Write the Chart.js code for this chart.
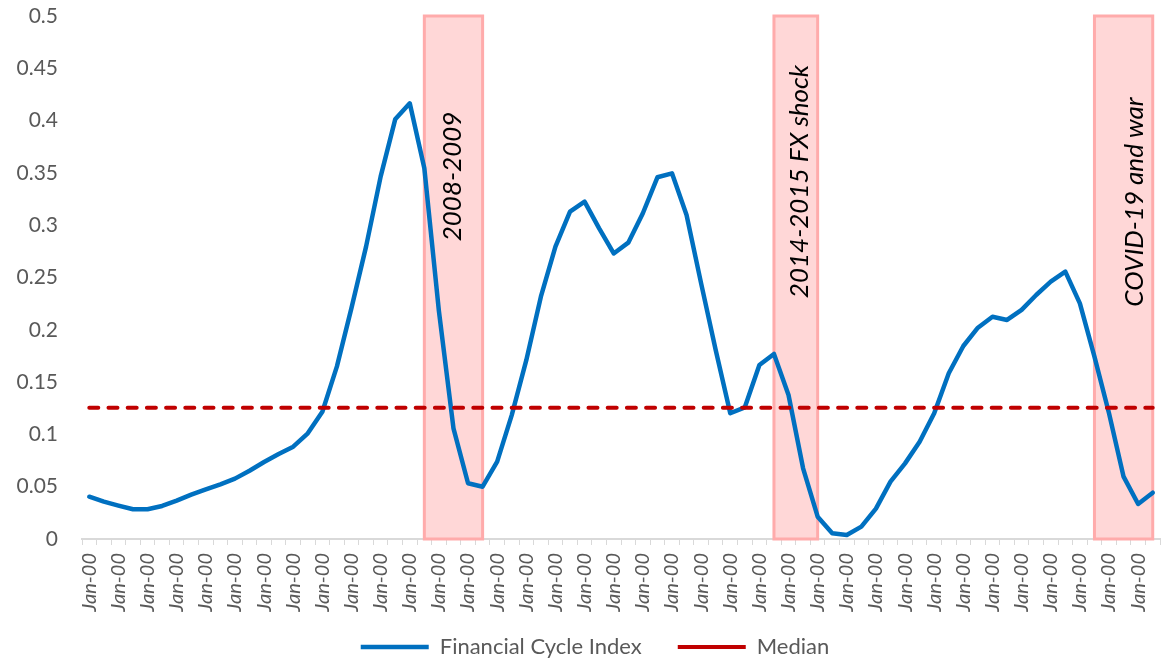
<!DOCTYPE html>
<html><head><meta charset="utf-8">
<script src="https://cdn.jsdelivr.net/npm/chart.js@4/dist/chart.umd.min.js"></script>
<style>html,body{margin:0;padding:0;background:#fff}</style>
</head><body>
<canvas id="c" width="1167" height="659"></canvas>
<script>
// ---- data ----
const categories = Array.from({length: 74}, () => 'Jan-00');
const fciValues = [
  0.0404, 0.0357, 0.0319, 0.0284, 0.0284, 0.0316, 0.0367, 0.0424, 0.0475, 0.0523,
  0.0577, 0.0653, 0.0736, 0.0813, 0.0883, 0.1010, 0.1217, 0.1650, 0.2210, 0.2795,
  0.3464, 0.4012, 0.4165, 0.3544, 0.2180, 0.1058, 0.0533, 0.0500, 0.0739, 0.1185,
  0.1710, 0.2317, 0.2795, 0.3130, 0.3225, 0.2970, 0.2730, 0.2833, 0.3114, 0.3458,
  0.3496, 0.3098, 0.2444, 0.1807, 0.1202, 0.1259, 0.1663, 0.1769, 0.1377, 0.0676,
  0.0213, 0.0054, 0.0038, 0.0118, 0.0290, 0.0548, 0.0723, 0.0930, 0.1202, 0.1584,
  0.1845, 0.2020, 0.2125, 0.2094, 0.2190, 0.2333, 0.2460, 0.2556, 0.2253, 0.1743,
  0.1202, 0.0596, 0.0335, 0.0443
];
const medianValue = 0.1255;
const medianValues = categories.map(() => medianValue);
const yMin = 0, yMax = 0.5, yStep = 0.05;
const shadeStart = [23, 47, 69];
const shadeEnd = [27, 50, 73];
const shadeLabels = ['2008-2009', '2014-2015 FX shock', 'COVID-19 and war'];

// ---- layout / style (not data) ----
const shadeTextPos = [[24.97, 0.3466], [48.77, 0.3418], [71.76, 0.3222]];

const shadePlugin = {
  id: 'shade',
  afterLayout(chart) {
    // let tick labels run outside their axis boxes without being clipped
    chart.scales.x.bottom = chart.height;
    chart.scales.y.left = 0;
  },
  beforeDatasetsDraw(chart) {
    const {ctx, scales: {x, y}} = chart;
    ctx.save();
    const top = y.getPixelForValue(yMax), bot = y.getPixelForValue(yMin);
    for (let i = 0; i < shadeStart.length; i++) {
      const x0 = x.getPixelForValue(shadeStart[i]);
      const x1 = x.getPixelForValue(shadeEnd[i]);
      ctx.fillStyle = '#FFD7D7';
      ctx.fillRect(x0, top, x1 - x0, bot - top);
      ctx.strokeStyle = '#FFABAB';
      ctx.lineWidth = 3;
      ctx.strokeRect(x0, top, x1 - x0, bot - top);
    }
    ctx.fillStyle = '#000';
    ctx.font = 'italic 26px Lato';
    ctx.textAlign = 'center';
    ctx.textBaseline = 'middle';
    for (let i = 0; i < shadeLabels.length; i++) {
      const px = x.getPixelForValue(shadeTextPos[i][0]);
      const py = y.getPixelForValue(shadeTextPos[i][1]);
      ctx.save();
      ctx.translate(px, py);
      ctx.rotate(-Math.PI / 2);
      ctx.fillText(shadeLabels[i], 0, 0);
      ctx.restore();
    }
    ctx.restore();
  }
};

new Chart(document.getElementById('c'), {
  type: 'line',
  data: {
    labels: categories,
    datasets: [
      {label: 'Financial Cycle Index', data: fciValues, borderColor: '#0070C0', backgroundColor: '#0070C0',
       borderWidth: 4.5, pointRadius: 0, pointHoverRadius: 0, borderJoinStyle: 'round', borderCapStyle: 'round',
       pointStyle: 'line', tension: 0, order: 1},
      {label: 'Median', data: medianValues, borderColor: '#C00000', backgroundColor: '#C00000',
       borderWidth: 4, borderDash: [9, 10.2], borderCapStyle: 'round', pointRadius: 0, pointHoverRadius: 0,
       pointStyle: 'line', order: 0}
    ]
  },
  options: {
    responsive: false,
    animation: false,
    devicePixelRatio: 1,
    layout: {padding: {left: 30, right: 7, top: 16, bottom: -9}},
    plugins: {
      tooltip: {enabled: false},
      legend: {
        position: 'bottom',
        labels: {
          usePointStyle: true, pointStyleWidth: 68, color: '#595959', padding: 36,
          font: {family: 'Lato', size: 22},
          sort: (a, b) => a.datasetIndex - b.datasetIndex
        }
      }
    },
    scales: {
      x: {
        offset: true,
        grid: {offset: true, drawOnChartArea: false, drawTicks: true, tickLength: 6, color: '#D9D9D9', lineWidth: 1},
        border: {color: '#D9D9D9', width: 2},
        ticks: {autoSkip: false, maxRotation: 90, minRotation: 90, padding: 8, color: '#595959',
                font: {family: 'Lato', size: 20, style: 'italic'},
                callback: (v, i) => (i % 2 === 0 ? categories[i] : '')},
        afterFit: s => { s.height = 61; s.paddingLeft = 0; s.paddingRight = 0; }
      },
      y: {
        min: yMin, max: yMax,
        grid: {display: false, drawTicks: false},
        border: {display: false},
        ticks: {stepSize: yStep, padding: 24, color: '#595959', font: {family: 'Lato', size: 21},
                callback: v => String(Number(v.toFixed(2)))},
        afterFit: s => { s.width = 52; s.paddingTop = 0; s.paddingBottom = 0; }
      }
    }
  },
  plugins: [shadePlugin]
});
</script>
</body></html>
